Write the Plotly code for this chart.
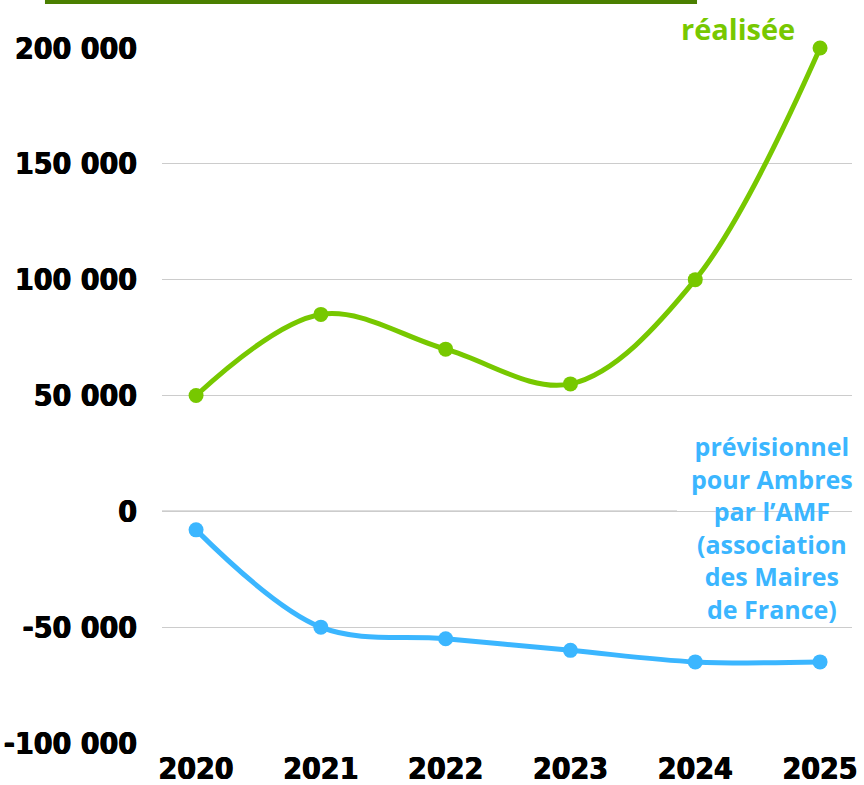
import plotly.graph_objects as go

years = [2020, 2021, 2022, 2023, 2024, 2025]
realisee = [50000, 85000, 70000, 55000, 100000, 200000]
previsionnel = [-8000, -50000, -55000, -60000, -65000, -65000]
y_ticks = [200000, 150000, 100000, 50000, 0, -50000, -100000]
y_tick_labels = ["200 000", "150 000", "100 000", "50 000", "0", "-50 000", "-100 000"]

GREEN = "#77c800"
BLUE = "#3bb6ff"
TICK_FONT = dict(family="DejaVu Sans Condensed", size=30, color="black", weight="bold",
                 shadow="0.5px 0 0 black, -0.5px 0 0 black")

fig = go.Figure()
fig.add_trace(go.Scatter(x=years, y=realisee, mode="lines+markers",
                         line=dict(color=GREEN, width=5, shape="spline", smoothing=1.0),
                         marker=dict(size=15, color=GREEN), cliponaxis=False, showlegend=False))
fig.add_trace(go.Scatter(x=years, y=previsionnel, mode="lines+markers",
                         line=dict(color=BLUE, width=5, shape="spline", smoothing=1.0),
                         marker=dict(size=15, color=BLUE), cliponaxis=False, showlegend=False))

# zero line (darker, stops before text)
fig.add_shape(type="line", xref="x", yref="y", x0=2019.727, x1=2023.854, y0=0, y1=0,
              line=dict(color="#7a7a7a", width=1.3), layer="below")
# top banner bar
fig.add_shape(type="rect", xref="paper", yref="paper", x0=-0.1696, x1=0.7754, y0=1.0633, y1=1.0700,
              fillcolor="#4a7f00", line=dict(width=0))

fig.add_annotation(x=0.8348, y=1.0275, xref="paper", yref="paper", text="réalisée", showarrow=False,
                   xanchor="center", yanchor="middle",
                   font=dict(family="Open Sans", size=29, color=GREEN, weight="bold"))
fig.add_annotation(x=0.884, y=0.3094, xref="paper", yref="paper",
                   text="prévisionnel<br>pour Ambres<br>par l’AMF<br>(association<br>des Maires<br>de France)",
                   showarrow=False, align="center", xanchor="center", yanchor="middle",
                   font=dict(family="Open Sans", size=25, color=BLUE, weight="bold"))

fig.update_layout(
    width=864, height=785,
    margin=dict(l=162, r=12, t=48, b=42),
    paper_bgcolor="white", plot_bgcolor="white",
    xaxis=dict(range=[2019.727, 2025.256], tickmode="array", tickvals=years,
               ticktext=[str(y) for y in years], showgrid=False, zeroline=False,
               showline=False, ticks="", ticklabelstandoff=5, tickfont=TICK_FONT,
               automargin=False),
    yaxis=dict(range=[-100000, 200000], tickmode="array", tickvals=y_ticks,
               ticktext=y_tick_labels, showgrid=True, gridcolor="#cccccc", gridwidth=1,
               zeroline=False, showline=False, ticks="", ticklabelstandoff=24,
               tickfont=TICK_FONT, automargin=False),
)

fig.write_html("out.html", config={"displayModeBar": False},
               post_script="document.body.style.margin='0';")
